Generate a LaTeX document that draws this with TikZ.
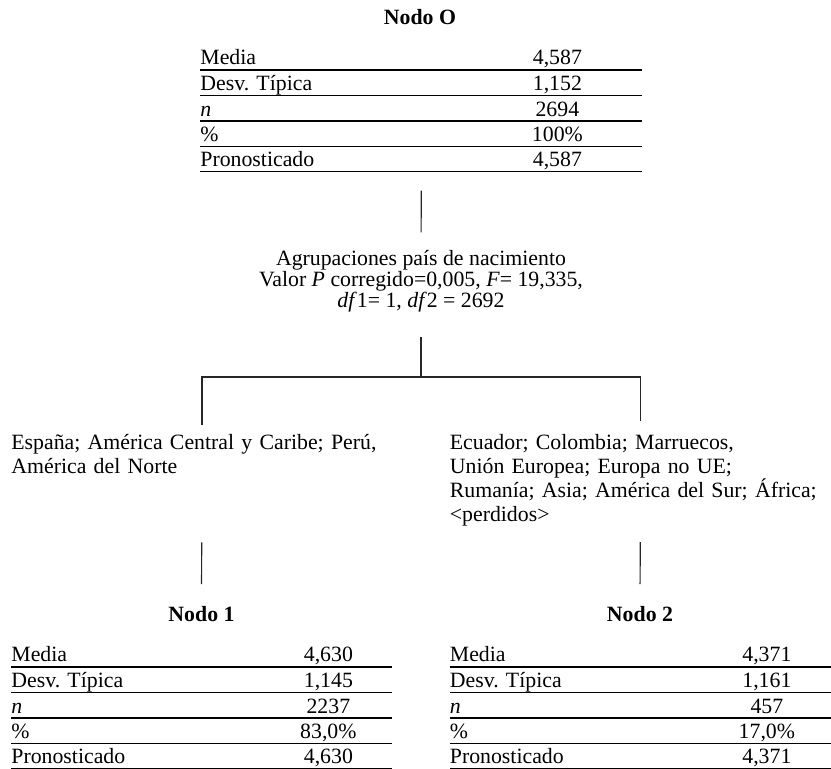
\documentclass[tikz,border=0pt]{standalone}
\usepackage{fontspec}
\setmainfont{Liberation Serif}
\usepackage{array}
\setlength{\arrayrulewidth}{0.6pt}
\renewcommand{\arraystretch}{0.606}
\setlength{\extrarowheight}{7.87pt}

\begin{document}
\begin{tikzpicture}[x=0.5pt, y=-0.5pt,
    every node/.style={font=\fontsize{10.9}{12.1}\selectfont, inner sep=0pt},
    title/.style={font=\fontsize{10.9}{12.1}\selectfont\bfseries, anchor=base},
    stats/.style={anchor=base west},
    grp/.style={anchor=base west, text width=190.5pt, align=left, font=\fontsize{10.9}{12}\selectfont},
    crit/.style={anchor=base, align=center, font=\fontsize{10.9}{10.5}\selectfont},
    branch/.style={line width=0.6pt, color=black!85}
]
\useasboundingbox (0,0) rectangle (831,769);

% Root node
\node[title] (t0) at (420,25) {Nodo O};
\node[stats] (n0) at (200,65) {\begin{tabular}[t]{@{}p{136pt}@{}>{\centering\arraybackslash}p{85pt}@{}}
Media & 4,587\\ \hline
Desv. Típica & 1,152\\ \hline
\textit{n} & 2694\\ \hline
\% & 100\%\\ \hline
Pronosticado & 4,587\\ \hline
\end{tabular}};

% Split criterion (base = last line)
\node[crit] (crit) at (421,308) {Agrupaciones país de nacimiento\\ Valor \textit{P} corregido=0,005, \textit{F}= 19,335,\\ \textit{df}1= 1, \textit{df}2 = 2692};
\coordinate (fork) at (421,377);

% Groups
\node[grp] (g1) at (11,450) {\mbox{España; América Central y Caribe; Perú,}\\ América del Norte};
\node[grp] (g2) at (449.5,450) {Ecuador; Colombia; Marruecos,\\ Unión Europea; Europa no UE;\\ \mbox{Rumanía; Asia; América del Sur; África;}\\ \textless perdidos\textgreater};

% Child nodes
\node[title] (t1) at (201.5,622) {Nodo 1};
\node[title] (t2) at (640,622) {Nodo 2};
\node[stats] (n1) at (11,662) {\begin{tabular}[t]{@{}p{126.5pt}@{}>{\centering\arraybackslash}p{64pt}@{}}
Media & 4,630\\ \hline
Desv. Típica & 1,145\\ \hline
\textit{n} & 2237\\ \hline
\% & 83,0\%\\ \hline
Pronosticado & 4,630\\ \hline
\end{tabular}};
\node[stats] (n2) at (449.5,662) {\begin{tabular}[t]{@{}p{126.5pt}@{}>{\centering\arraybackslash}p{64pt}@{}}
Media & 4,371\\ \hline
Desv. Típica & 1,161\\ \hline
\textit{n} & 457\\ \hline
\% & 17,0\%\\ \hline
Pronosticado & 4,371\\ \hline
\end{tabular}};

% Links
\draw[branch, shorten <=8.9pt, shorten >=9.05pt] (n0) -- (crit);
\draw[branch, shorten <=12.15pt] (crit) -- (fork);
\draw[branch, shorten <=4.5pt, shorten >=6.55pt] (g1) |- (fork) -| (g2);
\draw[branch, shorten <=33.85pt, shorten >=11.15pt] (g1) -- (t1);
\draw[branch, shorten <=7.5pt, shorten >=11.15pt] (g2) -- (t2);
\end{tikzpicture}
\end{document}
